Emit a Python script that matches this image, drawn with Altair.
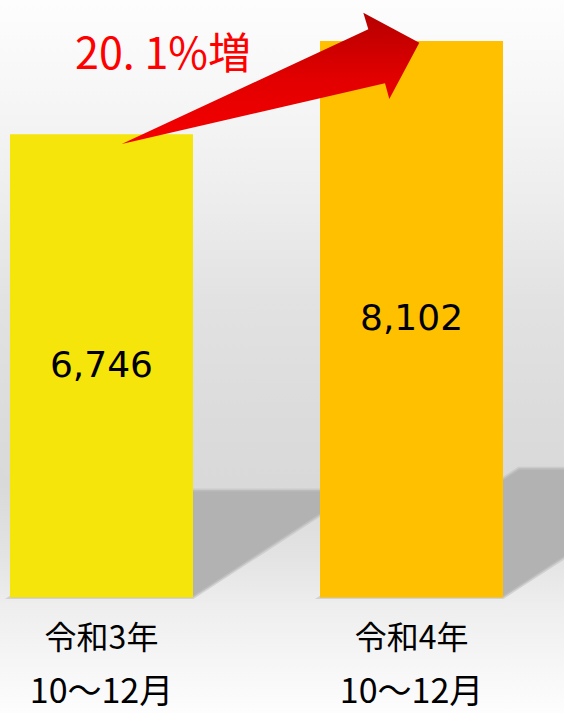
import altair as alt
import pandas as pd

# ---- data ----
period_year = ["令和3年", "令和4年"]
period_months = ["10～12月", "10～12月"]
values = [6746, 8102]
bar_colors = ["#F5E50B", "#FFC000"]
growth_label = ["20. 1%増"]

FONT = "Noto Sans CJK JP"
NUM_FONT = "DejaVu Sans"
HW = 0.2952          # half bar width in category units
SH = 0.232           # shadow height ratio
DXK = 7.91e-5        # shadow horizontal shift per value unit

df = pd.DataFrame({
    "cat": [a + " " + b for a, b in zip(period_year, period_months)],
    "line1": period_year,
    "line2": period_months,
    "idx": list(range(len(values))),
    "value": values,
})

xscale = alt.Scale(domain=[-0.3274, 1.4919], nice=False, zero=False)
yscale = alt.Scale(domain=[-1682, 8699], nice=False, zero=False)

bg_grad = alt.Gradient(
    gradient="linear", x1=0, x2=0, y1=0, y2=1,
    stops=[
        alt.GradientStop(offset=0.0, color="#FDFDFD"),
        alt.GradientStop(offset=0.12, color="#F7F7F7"),
        alt.GradientStop(offset=0.28, color="#EDEDED"),
        alt.GradientStop(offset=0.42, color="#E2E2E2"),
        alt.GradientStop(offset=0.60, color="#DBDBDB"),
        alt.GradientStop(offset=0.68, color="#D9D9D9"),
        alt.GradientStop(offset=0.78, color="#E3E3E3"),
        alt.GradientStop(offset=0.85, color="#EEEEEE"),
        alt.GradientStop(offset=1.0, color="#FDFDFD"),
    ],
)

bg = alt.Chart(pd.DataFrame({"k": [0]})).mark_rect(color=bg_grad).encode(
    x=alt.value(0), x2=alt.value(564), y=alt.value(0), y2=alt.value(713)
)

shadow = (
    alt.Chart(df)
    .transform_calculate(t="[0,1,2,3]")
    .transform_flatten(["t"])
    .transform_calculate(
        sx=f"datum.idx + (datum.t % 2 == 0 ? -{HW} : {HW}) + (datum.t >= 2 ? datum.value * {DXK} : 0)"
    )
    .transform_calculate(
        sy=f"{SH} * datum.value * min(1, (datum.sx - (datum.idx - {HW})) / (datum.value * {DXK}))",
        sy2=f"{SH} * datum.value * max(0, (datum.sx - (datum.idx + {HW})) / (datum.value * {DXK}))",
    )
    .mark_area(color="#B2B2B2", stroke="#C2C2C2", strokeWidth=3, strokeOpacity=0.6)
    .encode(
        x=alt.X("sx:Q", scale=xscale, axis=None),
        y=alt.Y("sy:Q", scale=yscale, axis=None, stack=None),
        y2="sy2:Q",
        detail="cat:N",
    )
)

bars = (
    alt.Chart(df)
    .transform_calculate(xl=f"datum.idx - {HW}", xr=f"datum.idx + {HW}")
    .mark_rect()
    .encode(
        x=alt.X("xl:Q", scale=xscale, axis=None),
        x2="xr:Q",
        y=alt.Y("value:Q", scale=yscale, axis=None),
        y2=alt.datum(0),
        color=alt.Color("cat:N", scale=alt.Scale(domain=df["cat"].tolist(), range=bar_colors), legend=None),
    )
)

value_labels = (
    alt.Chart(df)
    .transform_calculate(mid="datum.value / 2")
    .mark_text(font=NUM_FONT, fontSize=36, baseline="middle", align="center", color="#000000")
    .encode(
        x=alt.X("idx:Q", scale=xscale, axis=None),
        y=alt.Y("mid:Q", scale=yscale, axis=None),
        text=alt.Text("value:Q", format=","),
    )
)

cat1 = alt.Chart(df).mark_text(font=FONT, fontSize=32, baseline="alphabetic", align="center", color="#000000").encode(
    x=alt.X("idx:Q", scale=xscale, axis=None), y=alt.value(649), text="line1:N"
)
cat2 = alt.Chart(df).mark_text(font=FONT, fontSize=34, baseline="alphabetic", align="center", color="#000000").encode(
    x=alt.X("idx:Q", scale=xscale, axis=None), y=alt.value(703), text="line2:N"
)

arrow_grad = alt.Gradient(
    gradient="linear", x1=0, x2=0, y1=0, y2=1,
    stops=[
        alt.GradientStop(offset=0.0, color="#B50000"),
        alt.GradientStop(offset=0.5, color="#E20000"),
        alt.GradientStop(offset=1.0, color="#F50000"),
    ],
)
ARROW_PATH = "M-289.8,103 L-43.2,-11.7 L-48.2,-28.3 L7.8,1.7 L-22.2,58 L-26.5,42.3 Z"

arrow = (
    alt.Chart(df)
    .transform_filter("datum.idx == 1")
    .mark_point(shape=ARROW_PATH, size=4, filled=True, opacity=1, fill=arrow_grad, strokeWidth=0)
    .encode(
        x=alt.X("idx:Q", scale=xscale, axis=None),
        y=alt.Y("value:Q", scale=yscale, axis=None),
    )
)

title = alt.Chart(pd.DataFrame({"label": growth_label})).mark_text(
    font=FONT, fontSize=43, color="#FF0000", baseline="alphabetic", align="center"
).encode(x=alt.value(163), y=alt.value(69), text="label:N")

chart = (
    alt.layer(bg, shadow, bars, value_labels, cat1, cat2, arrow, title)
    .properties(width=564, height=713, padding=0, autosize="none", background="#FFFFFF")
    .configure_view(strokeWidth=0)
)

chart.save("out.html", embed_options={"renderer": "svg", "actions": False})
